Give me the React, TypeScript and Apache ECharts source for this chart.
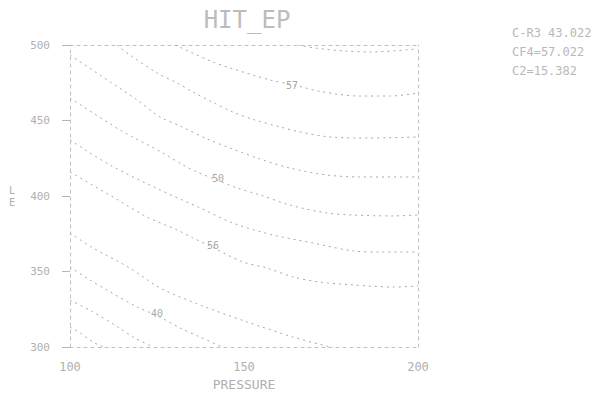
import React, { useEffect, useRef } from "react";
import * as echarts from "echarts";

const titleText = "HIT_EP";
const xAxisName = "PRESSURE";
const xTicks = [100, 150, 200];
const yTicks = [300, 350, 400, 450, 500];
const legendLines = ["C-R3 43.022", "CF4=57.022", "C2=15.382"];

const contour1 = [[165.5, 500], [170.4, 498], [179, 496], [187, 495.4], [200, 497.5]];
const contour2 = [[130.2, 500], [141.1, 488.7], [146.0, 484.8], [157.5, 476.8], [163.2, 474.2], [172.7, 468.9], [183.3, 466.2], [192.0, 466.2], [200, 468.2]];
const contour3 = [[113.5, 500], [117.2, 493.4], [125.0, 481.5], [130.8, 474.8], [135.3, 468.9], [140.8, 462.3], [146.8, 455.6], [153.2, 450.3], [160.4, 445.7], [166.1, 442.4], [174.7, 439.1], [186.2, 438.4], [200, 439.1]];
const contour4 = [[100, 493.4], [108.6, 480.1], [119.3, 463.6], [125.9, 452.3], [131.6, 446.4], [139.4, 437.8], [146.0, 431.8], [154.6, 424.5], [163.2, 418.5], [173.9, 413.9], [183.3, 412.6], [200, 412.6]];
const contour5 = [[100, 464.9], [114.4, 443.7], [126.7, 428.5], [132.5, 420.5], [136.5, 415.9], [142.2, 410.6], [148.0, 405.3], [154.6, 400.7], [163.2, 394.0], [173.9, 388.7], [181.3, 387.4], [192.8, 386.8], [200, 387.4]];
const contour6 = [[100, 437.1], [111.5, 420.5], [125.9, 404.0], [137.4, 392.1], [146.8, 382.1], [158.3, 374.2], [169.8, 368.9], [181.3, 363.6], [189.1, 362.9], [200, 362.9]];
const contour7 = [[100, 415.9], [112.4, 399.3], [122.1, 386.1], [130.8, 377.5], [135.3, 372.2], [140.8, 366.2], [149.7, 356.3], [156.6, 352.3], [164.1, 346.4], [171.8, 343.0], [181.3, 341.1], [192.8, 339.7], [200, 340.4]];
const contour8 = [[100, 375.5], [106.6, 365.6], [117.2, 352.3], [125.9, 339.1], [137.4, 327.8], [150.9, 316.6], [164.1, 306.6], [174.7, 300]];
const contour9 = [[100, 353.0], [105.7, 344.4], [110.6, 337.7], [119.3, 326.5], [125.3, 320.5], [131.6, 312.6], [137.4, 306.6], [143.7, 300]];
const contour10 = [[100, 331.1], [106.6, 323.2], [113.8, 313.2], [118.1, 306.6], [123.9, 300]];
const contour11 = [[100, 313.2], [102.9, 309.3], [106.6, 303.3], [109.5, 300]];

const contourLabels = [
  [163.8, 473.5, "57"],
  [142.5, 411.9, "50"],
  [141.1, 366.9, "56"],
  [125.0, 322.5, "40"],
];

const contours = [contour1, contour2, contour3, contour4, contour5, contour6, contour7, contour8, contour9, contour10, contour11];

const FONT = "DejaVu Sans Mono";
const TXT = "#b0b0b0";
const LINE = "#a8a8a8";

export default function App() {
  const ref = useRef<HTMLDivElement>(null);
  useEffect(() => {
    if (!ref.current) return;
    const chart = echarts.init(ref.current, null, { renderer: "svg" });
    const frameLine = { show: true, lineStyle: { color: "#c0c0c0", width: 1, type: [3, 4] as any } };
    chart.setOption({
      animation: false,
      backgroundColor: "#ffffff",
      title: {
        text: titleText,
        left: 242,
        top: 3,
        textAlign: "center",
        textStyle: { fontFamily: FONT, fontSize: 24, fontWeight: "normal", color: "#bcbcbc" },
      },
      graphic: [
        ...legendLines.map((t, i) => ({
          type: "text",
          left: 512,
          top: 27 + i * 19,
          style: { text: t, fontFamily: FONT, fontSize: 12, fill: "#b8b8b8" },
        })),
        { type: "text", left: 9, top: 185, style: { text: "L", fontFamily: FONT, fontSize: 10, fill: "#b0b0b0" } },
        { type: "text", left: 9, top: 197, style: { text: "E", fontFamily: FONT, fontSize: 10, fill: "#b0b0b0" } },
      ],
      grid: { left: 70, right: 180, top: 45, bottom: 47, containLabel: false, outerBoundsMode: "none" },
      xAxis: [
        {
          type: "value",
          min: 100,
          max: 200,
          interval: 50,
          position: "bottom",
          name: xAxisName,
          nameLocation: "middle",
          nameGap: 29,
          nameTextStyle: { fontFamily: FONT, fontSize: 13, color: TXT },
          axisLine: frameLine,
          axisTick: { show: false },
          splitLine: { show: false },
          axisLabel: {
            fontFamily: FONT,
            fontSize: 12,
            color: TXT,
            margin: 14,
            formatter: (v: number) => (xTicks.includes(v) ? String(v) : ""),
          },
        },
        {
          type: "value",
          min: 100,
          max: 200,
          position: "top",
          axisLine: frameLine,
          axisTick: { show: false },
          splitLine: { show: false },
          axisLabel: { show: false },
        },
      ],
      yAxis: [
        {
          type: "value",
          min: 300,
          max: 500,
          interval: 50,
          position: "left",
          axisLine: frameLine,
          axisTick: { show: true, inside: false, length: 8, lineStyle: { color: "#b5b5b5" } },
          splitLine: { show: false },
          axisLabel: {
            fontFamily: FONT,
            fontSize: 11,
            color: TXT,
            margin: 20,
            formatter: (v: number) => (yTicks.includes(v) ? String(v) : ""),
          },
        },
        {
          type: "value",
          min: 300,
          max: 500,
          position: "right",
          axisLine: frameLine,
          axisTick: { show: false },
          splitLine: { show: false },
          axisLabel: { show: false },
        },
      ],
      series: [
        ...contours.map((c) => ({
          type: "line",
          data: c,
          xAxisIndex: 0,
          yAxisIndex: 0,
          showSymbol: false,
          smooth: 0.3,
          lineStyle: { color: LINE, width: 1, type: [2, 4] },
          silent: true,
        })),
        {
          type: "scatter",
          data: contourLabels,
          symbolSize: 0,
          label: {
            show: true,
            position: "inside",
            formatter: (p: any) => p.value[2],
            fontFamily: FONT,
            fontSize: 10,
            color: "#909090",
            backgroundColor: "#ffffff",
          },
        },
      ],
    });
    return () => chart.dispose();
  }, []);
  return (
    <div
      ref={ref}
      style={{ position: "fixed", left: 0, top: 0, width: 598, height: 394 }}
    />
  );
}
